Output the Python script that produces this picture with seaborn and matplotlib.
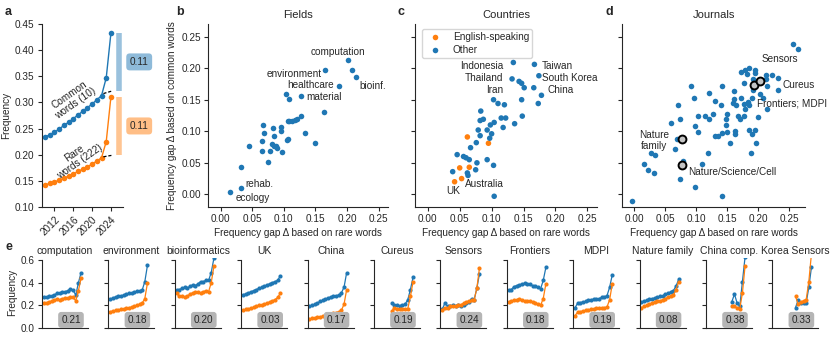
import matplotlib
matplotlib.use("Agg")
import matplotlib.pyplot as plt
from matplotlib.colors import to_rgba
import seaborn as sns
import pandas as pd

sns.set_style("ticks")
plt.rcParams["font.family"] = ["Liberation Sans", "DejaVu Sans"]
plt.rcParams["font.size"] = 7.2

BLUE = "#1f77b4"
ORANGE = "#ff7f0e"

# ---- panel a: frequency of common / rare words per year
years = list(range(2010, 2025))
common_freq = [0.234, 0.238, 0.243, 0.249, 0.256, 0.262, 0.269, 0.276, 0.283,
               0.290, 0.297, 0.305, 0.313, 0.347, 0.433]
rare_freq = [0.142, 0.145, 0.148, 0.151, 0.155, 0.159, 0.163, 0.168, 0.172,
             0.177, 0.182, 0.188, 0.194, 0.225, 0.311]
trend_years = [2022.4, 2024.3]
common_trend = [0.317, 0.322]
rare_trend = [0.196, 0.199]
gap_common = 0.11
gap_rare = 0.11

# ---- panel b: fields
fields_rare = [0.015, 0.033, 0.033, 0.045, 0.066, 0.066, 0.067, 0.068, 0.075,
               0.078, 0.082, 0.083, 0.084, 0.085, 0.088, 0.089, 0.095, 0.096,
               0.097, 0.104, 0.105, 0.107, 0.106, 0.108, 0.109, 0.113, 0.117,
               0.121, 0.127, 0.127, 0.133, 0.149, 0.164, 0.165, 0.188, 0.202,
               0.208, 0.214]
fields_common = [0.004, 0.010, 0.044, 0.076, 0.068, 0.085, 0.110, 0.098, 0.051,
                 0.068, 0.080, 0.105, 0.077, 0.093, 0.077, 0.073, 0.106, 0.100,
                 0.067, 0.159, 0.086, 0.087, 0.117, 0.151, 0.117, 0.117, 0.118,
                 0.119, 0.125, 0.156, 0.098, 0.082, 0.130, 0.197, 0.172, 0.213,
                 0.197, 0.186]

# ---- panel c: countries
eng_rare = [0.062, 0.095, 0.050, 0.065, 0.053, 0.042]
eng_common = [0.091, 0.081, 0.042, 0.043, 0.025, 0.020]
other_rare = [0.134, 0.167, 0.174, 0.132, 0.143, 0.147, 0.151, 0.166, 0.178,
              0.147, 0.173, 0.103, 0.110, 0.120, 0.083, 0.082, 0.087, 0.115,
              0.122, 0.104, 0.098, 0.148, 0.136, 0.118, 0.079, 0.093, 0.100,
              0.082, 0.097, 0.076, 0.067, 0.046, 0.056, 0.060, 0.065, 0.093,
              0.077, 0.103, 0.075, 0.039, 0.062, 0.063, 0.104]
other_common = [0.209, 0.206, 0.188, 0.183, 0.179, 0.176, 0.169, 0.169, 0.157,
                0.150, 0.144, 0.150, 0.144, 0.142, 0.132, 0.117, 0.119, 0.121,
                0.121, 0.114, 0.110, 0.124, 0.112, 0.106, 0.102, 0.102, 0.096,
                0.093, 0.089, 0.082, 0.074, 0.063, 0.060, 0.058, 0.055, 0.055,
                0.050, 0.046, 0.039, 0.036, 0.034, 0.030, -0.003]

# ---- panel d: journals
jour_rare = [0.256, 0.263, 0.172, 0.178, 0.184, 0.194, 0.182, 0.194, 0.177,
             0.191, 0.212, 0.222, 0.231, 0.212, 0.214, 0.231, 0.191, 0.203,
             0.208, 0.214, 0.161, 0.141, 0.091, 0.120, 0.096, 0.130, 0.160,
             0.159, 0.172, 0.183, 0.189, 0.164, 0.177, 0.185, 0.178, 0.140,
             0.070, 0.127, 0.149, 0.113, 0.102, 0.121, 0.148, 0.167, 0.176,
             0.171, 0.200, 0.074, 0.148, 0.059, 0.098, 0.103, 0.149, 0.141,
             0.162, 0.162, 0.130, 0.135, 0.184, 0.194, 0.190, 0.154, 0.196,
             0.068, 0.066, 0.118, 0.188, 0.026, 0.033, 0.015, 0.079, 0.109,
             0.022, 0.032, 0.074, 0.098, 0.142, -0.004]
jour_common = [0.238, 0.231, 0.194, 0.197, 0.200, 0.197, 0.190, 0.192, 0.177,
               0.183, 0.189, 0.189, 0.184, 0.183, 0.171, 0.165, 0.165, 0.159,
               0.152, 0.135, 0.164, 0.172, 0.172, 0.160, 0.152, 0.148, 0.151,
               0.145, 0.152, 0.147, 0.152, 0.141, 0.144, 0.141, 0.136, 0.141,
               0.141, 0.128, 0.128, 0.124, 0.124, 0.120, 0.120, 0.125, 0.125,
               0.119, 0.123, 0.120, 0.110, 0.113, 0.108, 0.099, 0.099, 0.098,
               0.100, 0.095, 0.092, 0.092, 0.102, 0.102, 0.095, 0.081, 0.081,
               0.087, 0.072, 0.066, 0.065, 0.065, 0.062, 0.048, 0.053, 0.048,
               0.038, 0.034, 0.025, 0.011, -0.002, -0.011]
hl_rare = [0.076, 0.077, 0.192, 0.203]
hl_common = [0.087, 0.047, 0.173, 0.180]

# ---- panel e: per-subset time series
e_titles = ["computation", "environment", "bioinformatics", "UK", "China",
            "Cureus", "Sensors", "Frontiers", "MDPI", "Nature family",
            "China comp.", "Korea Sensors"]
e_gaps = [0.21, 0.18, 0.20, 0.03, 0.17, 0.19, 0.24, 0.18, 0.19, 0.08, 0.38, 0.33]
e_first_year = [2010, 2010, 2010, 2010, 2010, 2016, 2010, 2010, 2010, 2010, 2019, 2018]

comp_common = [0.275, 0.275, 0.28, 0.285, 0.29, 0.31, 0.305, 0.32, 0.32, 0.33, 0.345, 0.335, 0.29, 0.40, 0.49]
comp_rare = [0.225, 0.225, 0.23, 0.24, 0.25, 0.255, 0.25, 0.26, 0.265, 0.265, 0.27, 0.27, 0.24, 0.33, 0.44]
env_common = [0.255, 0.265, 0.275, 0.28, 0.285, 0.29, 0.30, 0.305, 0.31, 0.315, 0.325, 0.33, 0.335, 0.41, 0.555]
env_rare = [0.145, 0.15, 0.155, 0.16, 0.165, 0.17, 0.175, 0.18, 0.185, 0.19, 0.20, 0.21, 0.22, 0.26, 0.40]
bio_common = [0.335, 0.34, 0.35, 0.36, 0.35, 0.37, 0.38, 0.375, 0.39, 0.41, 0.41, 0.42, 0.42, 0.49, 0.615]
bio_rare = [0.305, 0.28, 0.28, 0.27, 0.28, 0.30, 0.31, 0.32, 0.32, 0.31, 0.32, 0.33, 0.32, 0.40, 0.545]
uk_common = [0.295, 0.30, 0.31, 0.32, 0.33, 0.34, 0.35, 0.36, 0.37, 0.38, 0.39, 0.40, 0.41, 0.42, 0.46]
uk_rare = [0.155, 0.165, 0.17, 0.175, 0.185, 0.19, 0.20, 0.205, 0.21, 0.22, 0.23, 0.24, 0.25, 0.27, 0.305]
china_common = [0.19, 0.20, 0.21, 0.22, 0.235, 0.245, 0.255, 0.265, 0.275, 0.28, 0.285, 0.29, 0.31, 0.36, 0.49]
china_rare = [0.08, 0.085, 0.09, 0.095, 0.10, 0.105, 0.11, 0.115, 0.12, 0.13, 0.135, 0.145, 0.155, 0.21, 0.34]
cureus_common = [0.22, 0.20, 0.20, 0.195, 0.20, 0.21, 0.25, 0.34, 0.45]
cureus_rare = [0.15, 0.18, 0.17, 0.17, 0.17, 0.165, 0.17, 0.28, 0.41]
sensors_common = [0.165, 0.22, 0.19, 0.19, 0.20, 0.19, 0.20, 0.195, 0.20, 0.22, 0.23, 0.26, 0.25, 0.35, 0.48]
sensors_rare = [0.16, 0.18, 0.18, 0.19, 0.19, 0.195, 0.20, 0.205, 0.22, 0.23, 0.24, 0.245, 0.25, 0.35, 0.53]
frontiers_common = [0.335, 0.34, 0.365, 0.375, 0.38, 0.39, 0.395, 0.385, 0.385, 0.375, 0.37, 0.36, 0.345, 0.42, 0.535]
frontiers_rare = [0.23, 0.24, 0.245, 0.25, 0.26, 0.25, 0.24, 0.235, 0.235, 0.23, 0.225, 0.21, 0.20, 0.26, 0.39]
mdpi_common = [0.18, 0.22, 0.225, 0.23, 0.235, 0.245, 0.25, 0.255, 0.255, 0.26, 0.27, 0.275, 0.285, 0.36, 0.47]
mdpi_rare = [0.11, 0.14, 0.145, 0.15, 0.155, 0.16, 0.165, 0.17, 0.175, 0.175, 0.18, 0.18, 0.185, 0.25, 0.39]
nature_common = [0.23, 0.24, 0.245, 0.255, 0.26, 0.265, 0.27, 0.28, 0.285, 0.30, 0.305, 0.32, 0.33, 0.37, 0.43]
nature_rare = [0.18, 0.19, 0.20, 0.21, 0.22, 0.23, 0.235, 0.24, 0.25, 0.26, 0.27, 0.28, 0.29, 0.34, 0.41]
chinacomp_common = [0.23, 0.30, 0.22, 0.19, 0.41, 0.63]
chinacomp_rare = [0.19, 0.19, 0.18, 0.17, 0.31, 0.55]
korea_common = [0.18, 0.25, 0.22, 0.22, 0.22, 0.36, 0.54]
korea_rare = [0.28, 0.21, 0.23, 0.24, 0.25, 0.41, 0.66]

e_common = [comp_common, env_common, bio_common, uk_common, china_common, cureus_common,
            sensors_common, frontiers_common, mdpi_common, nature_common,
            chinacomp_common, korea_common]
e_rare = [comp_rare, env_rare, bio_rare, uk_rare, china_rare, cureus_rare,
          sensors_rare, frontiers_rare, mdpi_rare, nature_rare,
          chinacomp_rare, korea_rare]

# ---------------------------------------------------------------
W, H = 831, 346
fig = plt.figure(figsize=(W / 100, H / 100), dpi=100)


def add_ax(left, top, width, height):
    return fig.add_axes([left / W, 1 - (top + height) / H, width / W, height / H])


def style(ax):
    sns.despine(ax=ax)
    ax.tick_params(labelsize=7.2, length=3, width=0.8, pad=2)
    for sp in ax.spines.values():
        sp.set_linewidth(0.8)


XLAB = "Frequency gap Δ based on rare words"
gap_ticks = [0.0, 0.05, 0.10, 0.15, 0.20, 0.25]

# panel a
ax = add_ax(41.5, 24, 81.5, 183)
sns.lineplot(x=years, y=common_freq, ax=ax, color=BLUE, marker="o",
             markersize=4, markeredgewidth=0, lw=1)
sns.lineplot(x=years, y=rare_freq, ax=ax, color=ORANGE, marker="o",
             markersize=4, markeredgewidth=0, lw=1)
ax.plot(trend_years, common_trend, color="black", lw=0.9, ls=(0, (2.5, 1.5)))
ax.plot(trend_years, rare_trend, color="black", lw=0.9, ls=(0, (2.5, 1.5)))
bar_x = 2025.7
ax.vlines(bar_x, common_trend[-1], common_freq[-1], color=BLUE, alpha=0.45, lw=4)
ax.vlines(bar_x, rare_trend[-1], rare_freq[-1], color=ORANGE, alpha=0.45, lw=4)
ax.text(2030, (common_trend[-1] + common_freq[-1]) / 2, f"{gap_common:.2f}",
        ha="center", va="center", clip_on=False,
        bbox=dict(boxstyle="round,pad=0.35", fc=to_rgba(BLUE, 0.5), ec="none"))
ax.text(2030, (rare_trend[-1] + rare_freq[-1]) / 2, f"{gap_rare:.2f}",
        ha="center", va="center", clip_on=False,
        bbox=dict(boxstyle="round,pad=0.35", fc=to_rgba(ORANGE, 0.5), ec="none"))
ax.text(2015.9, 0.306, "Common\nwords (10)", rotation=35, ha="center",
        va="center", rotation_mode="anchor", linespacing=1.0)
ax.text(2016.8, 0.194, "Rare\nwords (222)", rotation=35, ha="center",
        va="center", rotation_mode="anchor", linespacing=1.0)
ax.set_xlim(2009.26, 2026.56)
ax.set_ylim(0.10, 0.45)
ax.set_xticks([2012, 2016, 2020, 2024])
ax.set_xticklabels(["2012", "2016", "2020", "2024"], rotation=45, ha="right",
                   rotation_mode="anchor")
ax.set_yticks([0.10, 0.15, 0.20, 0.25, 0.30, 0.35, 0.40, 0.45])
ax.set_ylabel("Frequency", labelpad=3)
ax.set_xlabel("")
style(ax)

# panel b
ax = add_ax(208, 24, 180, 183)
sns.scatterplot(x=fields_rare, y=fields_common, ax=ax, color=BLUE, s=16, linewidth=0)
for txt, x, y, ha in [("computation", 0.185, 0.226, "center"),
                      ("environment", 0.160, 0.191, "right"),
                      ("healthcare", 0.179, 0.174, "right"),
                      ("material", 0.136, 0.154, "left"),
                      ("bioinf.", 0.219, 0.171, "left"),
                      ("rehab.", 0.039, 0.016, "left"),
                      ("ecology", 0.051, -0.006, "center")]:
    ax.text(x, y, txt, ha=ha, va="center")
ax.set_xlim(-0.02, 0.265)
ax.set_ylim(-0.02, 0.27)
ax.set_xticks(gap_ticks)
ax.set_yticks(gap_ticks)
ax.set_title("Fields", fontsize=8, pad=4)
ax.set_xlabel(XLAB, labelpad=3)
ax.set_ylabel("Frequency gap Δ based on common words", labelpad=3)
style(ax)

# panel c
df_c = pd.DataFrame({
    "rare": eng_rare + other_rare,
    "common": eng_common + other_common,
    "group": ["English-speaking"] * len(eng_rare) + ["Other"] * len(other_rare),
})
ax = add_ax(415, 24, 182, 183)
sns.scatterplot(data=df_c, x="rare", y="common", hue="group",
                hue_order=["English-speaking", "Other"], palette=[ORANGE, BLUE],
                s=16, linewidth=0, ax=ax)
ax.legend(loc="upper left", fontsize=7.2, frameon=True, edgecolor="#cccccc",
          borderpad=0.3, handletextpad=0.8, labelspacing=0.3,
          bbox_to_anchor=(0.01, 1.0))
for txt, x, y, ha in [("Indonesia", 0.118, 0.204, "right"),
                      ("Taiwan", 0.179, 0.204, "left"),
                      ("Thailand", 0.118, 0.185, "right"),
                      ("South Korea", 0.179, 0.185, "left"),
                      ("Iran", 0.118, 0.166, "right"),
                      ("China", 0.188, 0.166, "left"),
                      ("Australia", 0.059, 0.016, "left"),
                      ("UK", 0.040, 0.005, "center")]:
    ax.text(x, y, txt, ha=ha, va="center")
ax.set_xlim(-0.02, 0.265)
ax.set_ylim(-0.02, 0.27)
ax.set_xticks(gap_ticks)
ax.set_yticks(gap_ticks)
ax.set_title("Countries", fontsize=8, pad=4)
ax.set_xlabel(XLAB, labelpad=3)
ax.set_ylabel("")
style(ax)
ax.tick_params(labelleft=False)

# panel d
ax = add_ax(622, 24, 183, 183)
sns.scatterplot(x=jour_rare, y=jour_common, ax=ax, color=BLUE, s=16, linewidth=0)
sns.scatterplot(x=hl_rare, y=hl_common, ax=ax, color="#c4c4c4", s=32,
                edgecolor="black", linewidth=1.4, zorder=3)
for txt, x, y, ha in [("Sensors", 0.235, 0.215, "center"),
                      ("Cureus", 0.238, 0.174, "left"),
                      ("Frontiers; MDPI", 0.197, 0.144, "left"),
                      ("Nature\nfamily", 0.031, 0.085, "center"),
                      ("Nature/Science/Cell", 0.086, 0.036, "left")]:
    ax.text(x, y, txt, ha=ha, va="center", linespacing=1.1)
ax.set_xlim(-0.02, 0.275)
ax.set_ylim(-0.02, 0.27)
ax.set_xticks(gap_ticks)
ax.set_yticks(gap_ticks)
ax.set_title("Journals", fontsize=8, pad=4)
ax.set_xlabel(XLAB, labelpad=3)
ax.set_ylabel("")
style(ax)
ax.tick_params(labelleft=False)

# panel e
for i, title in enumerate(e_titles):
    ax = add_ax(42 + i * 66.4, 257.8, 46, 70.2)
    yrs = list(range(e_first_year[i], e_first_year[i] + len(e_common[i])))
    sns.lineplot(x=yrs, y=e_common[i], ax=ax, color=BLUE, marker="o",
                 markersize=3, markeredgewidth=0, lw=0.9)
    sns.lineplot(x=yrs, y=e_rare[i], ax=ax, color=ORANGE, marker="o",
                 markersize=3, markeredgewidth=0, lw=0.9)
    ax.text(0.63, 0.115, f"{e_gaps[i]:.2f}", transform=ax.transAxes,
            ha="center", va="center", fontsize=7.2,
            bbox=dict(boxstyle="round,pad=0.3", fc="#b5b5b5", ec="none"))
    ax.set_xlim(2009.3, 2026.6)
    ax.set_ylim(0, 0.62)
    ax.set_xticks([])
    ax.set_yticks([0, 0.2, 0.4, 0.6])
    ax.set_title(title, fontsize=7.5, pad=3)
    ax.set_xlabel("")
    style(ax)
    ax.spines["left"].set_bounds(0, 0.6)
    if i == 0:
        ax.set_yticklabels(["0.0", "0.2", "0.4", "0.6"])
        ax.set_ylabel("Frequency", labelpad=3)
    else:
        ax.tick_params(labelleft=False)

for letter, x, y in [("a", 5, 12), ("b", 176, 12), ("c", 397, 12),
                     ("d", 606, 12), ("e", 5, 247)]:
    fig.text(x / W, 1 - y / H, letter, fontsize=9, fontweight="bold",
             ha="left", va="center")

fig.savefig("out.png", dpi=100)
